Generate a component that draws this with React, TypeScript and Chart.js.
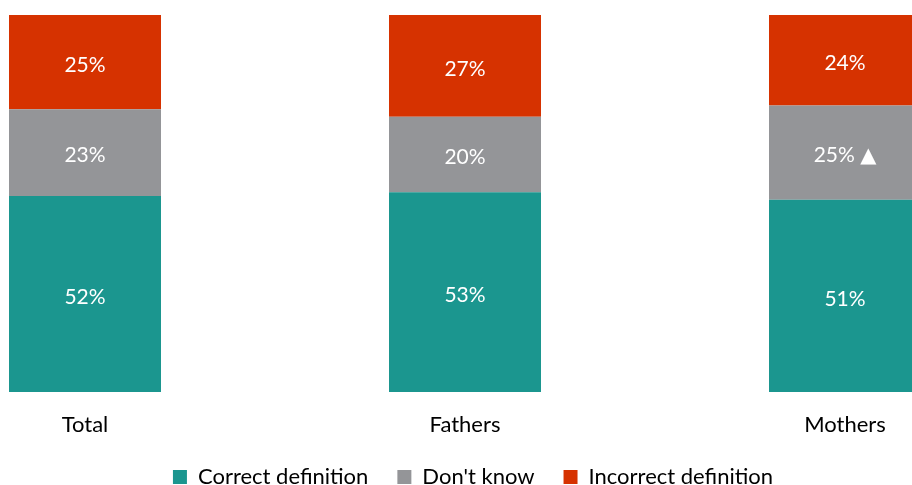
import React, { useEffect, useRef } from "react";
import { Chart, registerables } from "chart.js";

Chart.register(...registerables);

const categories = ["Total", "Fathers", "Mothers"];
const correctValues = [52, 53, 51];
const dontKnowValues = [23, 20, 25];
const incorrectValues = [25, 27, 24];
const significant = [false, false, true];

const FONT = "Lato, 'Open Sans', 'DejaVu Sans', sans-serif";

const labelPlugin = {
  id: "segLabels",
  afterDatasetsDraw(chart: any) {
    const ctx = chart.ctx;
    ctx.save();
    ctx.font = `21px ${FONT}`;
    ctx.fillStyle = "#ffffff";
    ctx.textBaseline = "middle";
    ctx.textAlign = "center";
    chart.data.datasets.forEach((ds: any, di: number) => {
      const meta = chart.getDatasetMeta(di);
      meta.data.forEach((bar: any, i: number) => {
        const text = ds.data[i] + "%";
        const cy = (bar.y + bar.base) / 2 + 3;
        const withMark = di === 1 && significant[i];
        ctx.fillText(withMark ? text + " ▲" : text, bar.x, cy);
      });
    });
    ctx.restore();
  },
};

export default function App() {
  const ref = useRef<HTMLCanvasElement>(null);
  useEffect(() => {
    if (!ref.current) return;
    const chart = new Chart(ref.current, {
      type: "bar",
      data: {
        labels: categories,
        datasets: [
          { label: "Correct definition", data: correctValues, backgroundColor: "#1B968F" },
          { label: "Don't know", data: dontKnowValues, backgroundColor: "#949598" },
          { label: "Incorrect definition", data: incorrectValues, backgroundColor: "#D63200" },
        ],
      },
      options: {
        responsive: false,
        animation: false,
        layout: { padding: { top: 15, bottom: 0, left: 0, right: 0 } },
        datasets: { bar: { categoryPercentage: 1, barPercentage: 0.4 } },
        scales: {
          x: {
            stacked: true,
            grid: { display: false, drawTicks: false },
            border: { display: false },
            ticks: { color: "#000000", font: { family: FONT, size: 22, lineHeight: 1 }, padding: 22 },
            afterFit: (s: any) => {
              s.height = 45;
            },
          },
          y: {
            stacked: true,
            position: "right",
            min: 0,
            max: 100,
            grid: { display: false, drawTicks: false },
            border: { display: false },
            ticks: { display: false },
            afterFit: (s: any) => {
              s.width = 16;
            },
          },
        },
        plugins: {
          legend: {
            position: "bottom",
            labels: {
              boxWidth: 14,
              boxHeight: 14,
              padding: 29,
              color: "#000000",
              font: { family: FONT, size: 22 },
            },
          },
          tooltip: { enabled: false },
        },
      },
      plugins: [labelPlugin],
    });
    return () => chart.destroy();
  }, []);
  return (
    <div style={{ position: "fixed", left: 0, top: 0, width: 912, height: 485, overflow: "hidden", background: "#fff" }}>
      <canvas ref={ref} width={1156} height={498} style={{ position: "absolute", left: -105, top: 0, width: 1156, height: 498 }} />
    </div>
  );
}
